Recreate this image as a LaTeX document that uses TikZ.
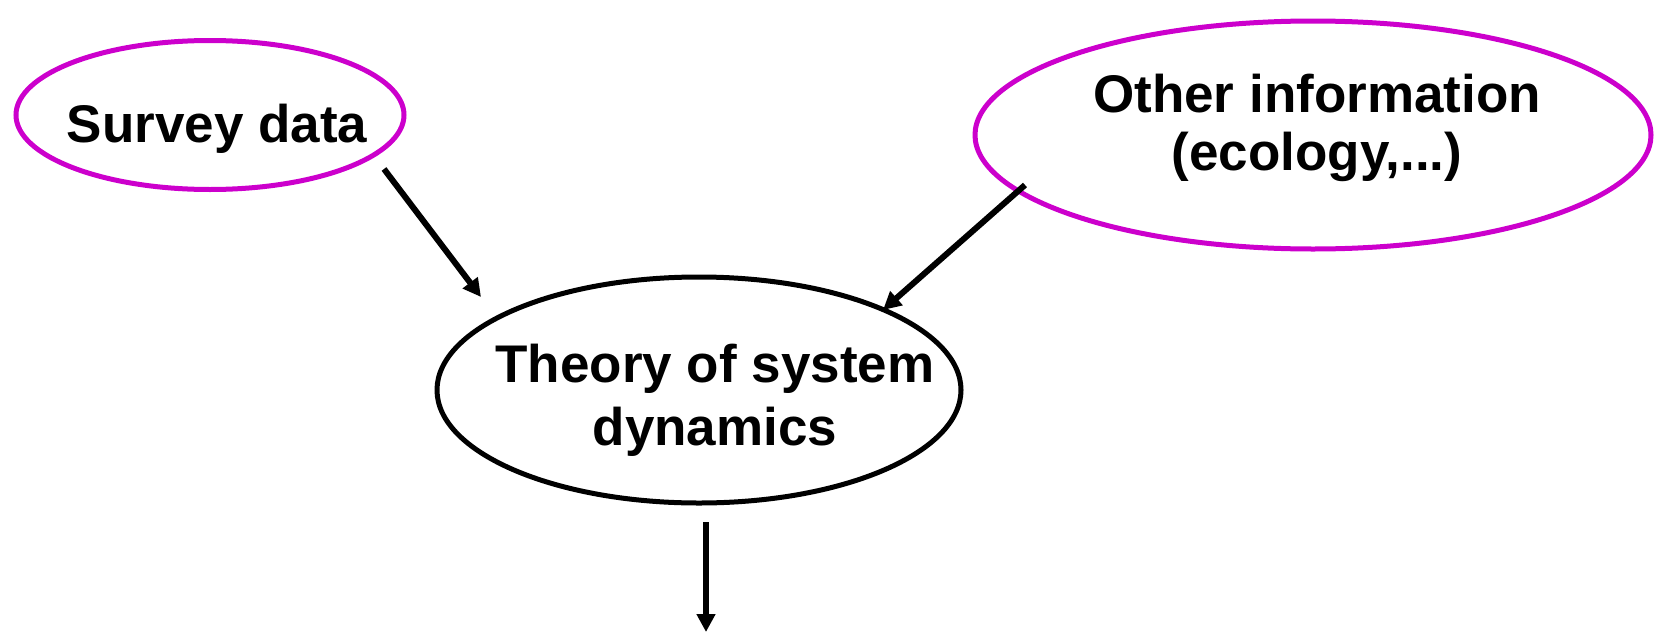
\documentclass[tikz,border=0pt]{standalone}
\usepackage{fontspec}
\setmainfont{Liberation Sans}
\usetikzlibrary{shapes.geometric,arrows.meta}
\definecolor{mag}{HTML}{CC00CC}
\tikzset{
  oval/.style={ellipse, draw, line width=5pt, inner sep=0pt},
  src/.style={oval, draw=mag},
  txt/.style={anchor=base, align=center, inner sep=0pt, font=\fontsize{53}{63}\selectfont\bfseries},
  arr/.style={line width=6pt, -{Triangle[length=18pt,width=18pt]}},
}
\begin{document}
\begin{tikzpicture}[x=1pt,y=-1pt]
\useasboundingbox (0,0) rectangle (1654,632);
\node[src, minimum width=388pt, minimum height=149pt] (survey) at (210,115) {};
\node[src, minimum width=676pt, minimum height=228pt] (other) at (1313,135) {};
\node[oval, minimum width=524pt, minimum height=226pt] (theory) at (699,390) {};
\node[txt] (surveytext) at (217,142) {Survey data};
\node[txt, font=\fontsize{53}{58}\selectfont\bfseries] (othertext) at (1317,170) {Other information\\(ecology,...)};
\node[txt] (theorytext) at (715,445) {Theory of system\\dynamics};
\coordinate (a1s) at (384,169);
\coordinate (a1e) at (481,297);
\coordinate (a2s) at (1025,185);
\coordinate (a2e) at (883,310);
\coordinate (a3s) at (706,522);
\coordinate (a3e) at (706,632);
\draw[arr] (a1s) -- (a1e);
\draw[arr] (a2s) -- (a2e);
\draw[arr] (a3s) -- (a3e);
\end{tikzpicture}
\end{document}
